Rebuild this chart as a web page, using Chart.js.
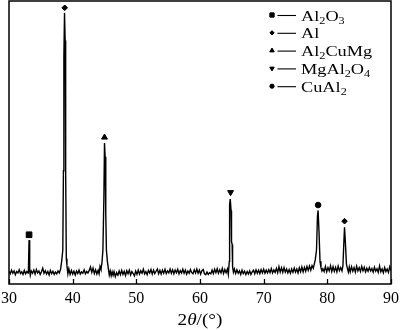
<!DOCTYPE html>
<html>
<head>
<meta charset="utf-8">
<script src="https://cdn.jsdelivr.net/npm/chart.js@4/dist/chart.umd.min.js"></script>
<style>
html,body{margin:0;padding:0;background:#fff;}
canvas{display:block;}
</style>
</head>
<body>
<canvas id="c" width="400" height="330"></canvas>
<script>
// ---- data ----
const xTicks = [30, 40, 50, 60, 70, 80, 90];
const xrdScan = [
[30.0,4.5],[30.2,3.6],[30.4,4.9],[30.6,3.8],[30.8,4.6],[31.0,3.3],[31.2,4.4],[31.4,3.9],[31.6,5.0],[31.8,3.7],
[32.0,4.3],[32.2,3.4],[32.4,4.8],[32.6,3.6],[32.8,4.4],[33.0,3.9],[33.05,4.8],[33.15,15.5],[33.25,5.0],[33.35,3.1],
[33.5,4.6],[33.7,3.8],[33.9,4.9],[34.1,3.5],[34.3,5.1],[34.5,3.9],[34.7,4.6],[34.9,3.4],[35.1,4.3],[35.3,5.6],
[35.5,3.8],[35.7,4.7],[35.9,3.5],[36.1,4.4],[36.3,3.2],[36.5,4.8],[36.7,3.7],[36.9,4.5],[37.1,3.4],[37.3,4.2],
[37.5,3.6],[37.7,4.6],[37.9,3.9],[38.1,5.2],[38.3,8.5],[38.45,12],[38.55,40],[38.62,80],[38.72,95.8],[38.82,86],
[38.9,40],[39.0,9],[39.1,6.5],[39.25,3.6],[39.4,5.4],[39.6,3.4],[39.8,4.8],[40.0,3.5],[40.2,4.5],[40.4,3.2],
[40.6,4.6],[40.8,3.7],[41.0,4.9],[41.2,3.5],[41.4,4.3],[41.6,3.8],[41.8,5.0],[42.0,3.6],[42.2,4.4],[42.4,3.9],
[42.6,4.8],[42.8,6.0],[43.0,4.1],[43.2,5.6],[43.4,3.7],[43.6,5.0],[43.8,3.5],[44.0,4.8],[44.15,3.6],[44.3,6.2],
[44.45,5.2],[44.6,7.5],[44.75,12],[44.9,30],[45.0,49.8],[45.1,45],[45.2,25],[45.3,12],[45.45,8],[45.6,5.5],
[45.75,3.2],[45.9,4.6],[46.05,2.9],[46.2,4.3],[46.35,3.1],[46.5,4.4],[46.7,2.6],[46.9,4.0],[47.1,3.1],[47.3,4.6],
[47.5,3.3],[47.7,4.8],[47.9,3.4],[48.1,4.5],[48.3,3.0],[48.5,4.7],[48.7,3.6],[48.9,4.9],[49.1,3.2],[49.3,4.4],
[49.5,3.7],[49.7,2.9],[49.9,4.6],[50.1,3.4],[50.3,4.9],[50.5,3.5],[50.7,4.7],[50.9,3.8],[51.1,5.2],[51.3,3.6],
[51.5,4.4],[51.7,3.3],[51.9,4.8],[52.1,3.9],[52.3,5.1],[52.5,3.5],[52.7,4.9],[52.9,3.7],[53.1,4.5],[53.3,5.3],
[53.5,3.6],[53.7,4.8],[53.9,3.5],[54.1,4.9],[54.3,3.8],[54.5,5.2],[54.7,3.7],[54.9,4.6],[55.1,3.9],[55.3,5.3],
[55.5,3.8],[55.7,5.0],[55.9,3.6],[56.1,4.9],[56.3,4.0],[56.5,5.2],[56.7,3.6],[56.9,4.7],[57.1,3.9],[57.3,5.2],
[57.5,3.8],[57.7,4.9],[57.9,3.5],[58.1,4.6],[58.3,3.8],[58.5,5.1],[58.7,4.0],[58.9,3.6],[59.1,5.0],[59.3,3.9],
[59.5,5.3],[59.7,3.8],[59.9,4.9],[60.1,3.5],[60.3,4.7],[60.5,5.1],[60.7,3.6],[60.9,3.3],[61.1,4.2],[61.3,3.4],
[61.5,4.0],[61.7,3.6],[61.9,4.9],[62.1,3.7],[62.3,5.2],[62.5,4.0],[62.7,5.4],[62.9,3.8],[63.1,5.0],[63.3,3.9],
[63.5,5.5],[63.7,3.7],[63.9,5.1],[64.1,4.0],[64.3,5.3],[64.45,3.4],[64.6,8],[64.65,28],[64.75,30],[64.88,26],
[64.95,15],[65.05,14],[65.12,6],[65.25,4.2],[65.4,5.3],[65.6,3.7],[65.8,5.0],[66.0,3.8],[66.2,4.7],[66.4,3.4],
[66.6,4.9],[66.8,3.7],[67.0,4.5],[67.2,3.3],[67.4,4.4],[67.6,3.5],[67.8,4.6],[68.0,3.4],[68.2,4.3],[68.4,4.9],
[68.6,3.6],[68.8,5.0],[69.0,3.8],[69.2,4.9],[69.4,3.7],[69.6,5.1],[69.8,3.9],[70.0,5.2],[70.2,3.8],[70.4,4.9],
[70.6,3.9],[70.8,5.1],[71.0,4.0],[71.2,5.4],[71.4,3.9],[71.6,5.0],[71.8,4.1],[72.0,5.5],[72.2,4.0],[72.4,6.1],
[72.6,4.2],[72.8,5.7],[73.0,4.1],[73.2,5.8],[73.4,4.2],[73.6,5.3],[73.8,3.9],[74.0,5.1],[74.2,3.8],[74.4,5.3],
[74.6,4.1],[74.8,5.6],[75.0,4.2],[75.2,5.3],[75.4,3.9],[75.6,5.7],[75.8,4.3],[76.0,6.0],[76.2,4.3],[76.4,5.9],
[76.6,4.5],[76.8,6.2],[77.0,4.8],[77.2,6.4],[77.4,4.9],[77.6,6.5],[77.8,5.6],[77.95,7.0],[78.1,8.5],[78.3,12],
[78.45,24],[78.55,26],[78.7,18],[78.85,8],[79.0,5.8],[79.15,4.6],[79.3,5.4],[79.5,4.4],[79.7,6.2],[79.9,4.3],
[80.1,5.8],[80.3,4.6],[80.5,6.4],[80.7,4.4],[80.9,6.1],[81.1,4.5],[81.3,5.9],[81.5,4.3],[81.7,6.3],[81.9,4.7],
[82.1,5.8],[82.3,4.6],[82.45,6.5],[82.6,15],[82.7,20],[82.85,14],[83.0,7],[83.15,5.5],[83.3,4.2],[83.45,6.0],
[83.6,4.3],[83.8,6.1],[84.0,4.5],[84.2,5.8],[84.4,4.2],[84.6,6.3],[84.8,4.6],[85.0,5.8],[85.2,4.4],[85.4,6.2],
[85.6,4.7],[85.8,5.9],[86.0,4.3],[86.2,5.6],[86.4,4.5],[86.6,5.8],[86.8,4.6],[87.0,5.5],[87.2,4.2],[87.4,5.9],
[87.6,4.5],[87.8,5.4],[88.0,4.1],[88.2,6.4],[88.4,4.3],[88.6,5.3],[88.8,4.0],[89.0,5.8],[89.2,4.4],[89.4,5.3],
[89.6,4.1],[89.8,6.1],[90.0,4.8]
];
// phase markers above peaks
const markerAngles  = [33.15, 38.75, 45.0, 64.8, 78.55, 82.7];
const markerHeights = [17.4, 97.6, 51.8, 32.4, 27.9, 22.2];
const markerPhase   = [0, 1, 2, 3, 4, 1];
// legend phases: pieces of [text, isSubscript]
const phaseLabels = [
  [["Al",0],["2",1],["O",0],["3",1]],
  [["Al",0]],
  [["Al",0],["2",1],["CuMg",0]],
  [["MgAl",0],["2",1],["O",0],["4",1]],
  [["CuAl",0],["2",1]]
];
const phaseStyles = [
  {pointStyle:'rect', rotation:0, radius:4.0},
  {pointStyle:'rectRot', rotation:0, radius:2.8},
  {pointStyle:'triangle', rotation:0, radius:3.4},
  {pointStyle:'triangle', rotation:180, radius:3.4},
  {pointStyle:'circle', rotation:0, radius:2.8}
];
const xTitle = [["2",0],["θ",1],["/(°)",0]];

const SERIF = '"Liberation Serif", "Times New Roman", serif';

function drawPieces(ctx, pieces, x, y, sx, mainFont, subFont, italicAsFlag) {
  ctx.save();
  ctx.translate(x, y);
  ctx.scale(sx, 1);
  let cx = 0;
  pieces.forEach(p => {
    if (italicAsFlag) {
      ctx.font = (p[1] ? 'italic ' : '') + mainFont;
      ctx.fillText(p[0], cx, 0);
    } else if (p[1]) {
      ctx.font = subFont; ctx.fillText(p[0], cx, 3);
    } else {
      ctx.font = mainFont; ctx.fillText(p[0], cx, 0);
    }
    cx += ctx.measureText(p[0]).width;
  });
  ctx.restore();
  return cx * sx;
}
function piecesWidth(ctx, pieces, mainFont) {
  let w = 0;
  pieces.forEach(p => { ctx.font = (p[1] ? 'italic ' : '') + mainFont; w += ctx.measureText(p[0]).width; });
  return w;
}

const decor = {
  id:'decor',
  afterDraw(chart){
    const ctx = chart.ctx, a = chart.chartArea, xs = chart.scales.x;
    ctx.save();
    // frame
    ctx.strokeStyle = '#000'; ctx.lineWidth = 1.5;
    ctx.strokeRect(a.left, a.top, a.right - a.left, a.bottom - a.top);
    // inward ticks
    ctx.lineWidth = 1.3;
    xTicks.forEach(v => {
      const px = Math.round(xs.getPixelForValue(v)) + 0.5;
      ctx.beginPath(); ctx.moveTo(px, a.bottom); ctx.lineTo(px, a.bottom - 5); ctx.stroke();
    });
    // axis title
    ctx.fillStyle = '#000'; ctx.textBaseline = 'alphabetic';
    const tf = '16px ' + SERIF, tsx = 1.2;
    const tw = piecesWidth(ctx, xTitle, tf) * tsx;
    drawPieces(ctx, xTitle, (a.left + a.right) / 2 - tw / 2, 325, tsx, tf, tf, true);
    // legend
    const lx = 272, rowY0 = 15, dy = 17.8;
    phaseLabels.forEach((parts, i) => {
      const y = rowY0 + i * dy;
      const st = phaseStyles[i];
      ctx.fillStyle = '#000'; ctx.strokeStyle = '#000'; ctx.lineWidth = 1;
      Chart.helpers.drawPoint(ctx, {pointStyle: st.pointStyle, rotation: st.rotation, radius: st.radius * 0.75, borderWidth: 1}, lx, y);
      ctx.fill();
      ctx.lineWidth = 1.1;
      ctx.beginPath(); ctx.moveTo(277.5, y + 0.5); ctx.lineTo(296, y + 0.5); ctx.stroke();
      ctx.textBaseline = 'alphabetic';
      drawPieces(ctx, parts, 301, y + 5.5, 1.22, '15px ' + SERIF, '10px ' + SERIF, false);
    });
    ctx.restore();
  }
};

new Chart(document.getElementById('c'), {
  type: 'scatter',
  data: {
    datasets: [
      {
        data: xrdScan.map(p => ({x: p[0], y: p[1]})),
        showLine: true, borderColor: '#000', borderWidth: 1.4,
        pointRadius: 0, tension: 0, fill: false
      },
      {
        data: markerAngles.map((a, i) => ({x: a, y: markerHeights[i]})),
        showLine: false,
        pointStyle: markerPhase.map(k => phaseStyles[k].pointStyle),
        rotation: markerPhase.map(k => phaseStyles[k].rotation),
        pointRadius: markerPhase.map(k => phaseStyles[k].radius),
        backgroundColor: '#000', borderColor: '#000', borderWidth: 1
      }
    ]
  },
  options: {
    responsive: false, animation: false, devicePixelRatio: 1,
    layout: {autoPadding: false, padding: {left: 9, right: 9, top: 1, bottom: 0}},
    plugins: {legend: {display: false}, tooltip: {enabled: false}},
    scales: {
      x: {
        type: 'linear', min: 30, max: 90,
        afterBuildTicks(s){ s.ticks = xTicks.map(v => ({value: v})); },
        afterFit(s){ s.height = 46; s.paddingLeft = 0; s.paddingRight = 0; s.paddingTop = 0; s.paddingBottom = 0; },
        grid: {display: false, drawTicks: false},
        border: {display: false},
        ticks: {color: '#000', font: {family: SERIF, size: 16}, padding: 5, maxRotation: 0, autoSkip: false}
      },
      y: {
        type: 'linear', min: 0, max: 100, display: false,
        afterFit(s){ s.paddingLeft = 0; s.paddingRight = 0; s.paddingTop = 0; s.paddingBottom = 0; }
      }
    }
  },
  plugins: [decor]
});
</script>
</body>
</html>
